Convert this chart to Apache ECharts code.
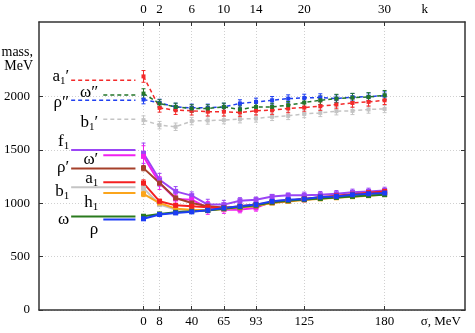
<!doctype html>
<html lang="en">
<head>
    <meta charset="UTF-8">
    <title>mass vs k</title>
    <style>
        html, body { margin: 0; padding: 0; background: #fff; }
    </style>
</head>
<body>
    <div id="main" style="width: 475px;height:333px;"></div>
    <script src="https://cdn.jsdelivr.net/npm/echarts@6/dist/echarts.min.js"></script>
    <script>
        // k values of the points (top axis); bottom axis shows sigma at the same places
        var kValues = [0, 2, 4, 6, 8, 10, 12, 14, 16, 18, 20, 22, 24, 26, 28, 30];
        var kTicks = [0, 2, 6, 10, 14, 20, 30];
        var sigmaLabels = ['0', '8', '40', '65', '93', '125', '180'];
        var yTicks = [0, 500, 1000, 1500, 2000];

        // upper states (dashed)
        var a1p    = [2190, 1895, 1873, 1868, 1859, 1859, 1852, 1868, 1873, 1889, 1898, 1911, 1926, 1941, 1951, 1966];
        var omegaPP = [2029, 1936, 1904, 1889, 1889, 1904, 1880, 1904, 1904, 1920, 1945, 1966, 1982, 1991, 1997, 2013];
        var rhoPP  = [1973, 1941, 1904, 1895, 1895, 1904, 1936, 1951, 1966, 1982, 1988, 1992, 1982, 1995, 2000, 2010];
        var b1p    = [1780, 1733, 1718, 1771, 1777, 1780, 1789, 1796, 1811, 1820, 1838, 1848, 1864, 1867, 1880, 1885];

        // lower states (solid)
        var f1     = [1470, 1221, 1112, 1072, 988, 988, 1025, 1034, 1065, 1075, 1075, 1081, 1090, 1103, 1112, 1121];
        var omegaP = [1440, 1190, 1041, 1034, 957, 941, 941, 957, 1019, 1028, 1034, 1050, 1060, 1075, 1090, 1100];
        var rhoP   = [1330, 1190, 1050, 1003, 972, 960, 960, 975, 1005, 1025, 1040, 1055, 1065, 1080, 1090, 1100];
        var a1     = [1190, 1019, 981, 972, 963, 957, 972, 988, 1009, 1025, 1041, 1058, 1070, 1085, 1100, 1112];
        var b1     = [1143, 988, 941, 932, 935, 950, 962, 980, 1005, 1020, 1035, 1045, 1055, 1065, 1075, 1085];
        var h1     = [1088, 1003, 950, 941, 935, 948, 960, 978, 1003, 1018, 1032, 1042, 1052, 1062, 1072, 1082];
        var omega  = [879, 901, 916, 925, 932, 950, 965, 982, 1010, 1025, 1035, 1045, 1055, 1065, 1073, 1081];
        var rho    = [855, 895, 910, 920, 935, 957, 972, 988, 1019, 1034, 1041, 1060, 1065, 1081, 1090, 1097];

        // error bars
        var a1pErr    = [55, 40, 40, 40, 40, 40, 40, 40, 40, 40, 40, 40, 40, 40, 40, 40];
        var omegaPPErr = [45, 35, 35, 35, 35, 35, 35, 35, 35, 35, 40, 40, 40, 40, 40, 45];
        var rhoPPErr  = [40, 35, 35, 35, 35, 35, 35, 35, 35, 35, 35, 35, 35, 35, 35, 35];
        var b1pErr    = [40, 35, 35, 35, 35, 35, 35, 35, 35, 35, 35, 35, 35, 35, 35, 35];
        var f1Err     = [95, 60, 45, 35, 50, 40, 28, 25, 18, 22, 30, 30, 30, 30, 30, 30];
        var omegaPErr = [100, 60, 40, 40, 60, 35, 30, 30, 20, 20, 20, 20, 20, 20, 20, 20];
        var rhoPErr   = [25, 20, 15, 12, 10, 10, 10, 10, 10, 10, 10, 10, 10, 10, 10, 10];
        var a1Err     = [30, 20, 15, 12, 10, 10, 10, 10, 10, 10, 10, 10, 10, 10, 10, 10];
        var b1Err     = [20, 12, 10, 10, 10, 10, 10, 10, 10, 10, 10, 10, 10, 10, 10, 10];
        var h1Err     = [25, 12, 10, 10, 10, 10, 10, 10, 10, 10, 10, 10, 10, 10, 10, 10];
        var omegaErr  = [12, 10, 8, 8, 8, 8, 8, 8, 8, 8, 8, 8, 8, 8, 8, 8];
        var rhoErr    = [12, 10, 8, 8, 8, 8, 8, 8, 8, 8, 8, 8, 8, 8, 8, 8];

        // experimental masses (horizontal reference lines on the left)
        var refNames  = ['a1p', 'omegaPP', 'rhoPP', 'b1p', 'f1', 'omegaP', 'rhoP', 'a1', 'b1', 'h1', 'omega', 'rho'];
        var refMasses = [2155, 2015, 1967, 1788, 1500, 1451, 1326, 1198, 1151, 1098, 876, 848];

        var FONT = '"Liberation Serif", "Times New Roman", serif';

        // draw order: later on top; dy = label shift in px from its line
        var states = [
            { key: 'b1p', label: 'b{s|1}′', data: b1p, err: b1pErr, color: '#c4c4c4', dashed: true, left: false, dy: 3 },
            { key: 'a1p', label: 'a{s|1}′', data: a1p, err: a1pErr, color: '#f42a2a', dashed: true, left: true, dy: -4 },
            { key: 'rhoPP', label: 'ρ″', data: rhoPP, err: rhoPPErr, color: '#2040f0', dashed: true, left: true, dy: 2 },
            { key: 'omegaPP', label: 'ω″', data: omegaPP, err: omegaPPErr, color: '#23762a', dashed: true, left: false, dy: -3 },
            { key: 'f1', label: 'f{s|1}', data: f1, err: f1Err, color: '#9b45f5', dashed: false, left: true, dy: -8 },
            { key: 'omegaP', label: 'ω′', data: omegaP, err: omegaPErr, color: '#f020f0', dashed: false, left: false, dy: 4 },
            { key: 'rhoP', label: 'ρ′', data: rhoP, err: rhoPErr, color: '#a5402a', dashed: false, left: true, dy: -1 },
            { key: 'b1', label: 'b{s|1}', data: b1, err: b1Err, color: '#c4c4c4', dashed: false, left: true, dy: 4 },
            { key: 'h1', label: 'h{s|1}', data: h1, err: h1Err, color: '#fba51c', dashed: false, left: false, dy: 10 },
            { key: 'a1', label: 'a{s|1}', data: a1, err: a1Err, color: '#f42020', dashed: false, left: false, dy: -4 },
            { key: 'omega', label: 'ω', data: omega, err: omegaErr, color: '#2a7a1e', dashed: false, left: true, dy: 3 },
            { key: 'rho', label: 'ρ', data: rho, err: rhoErr, color: '#1c3cf5', dashed: false, left: false, dy: 10 }
        ];

        var series = [];
        states.forEach(function (st) {
            var lineType = st.dashed ? [4, 3] : 'solid';
            var lw = st.dashed ? 1.5 : 2;
            var ref = refMasses[refNames.indexOf(st.key)];
            var x0 = st.left ? -9 : -5;

            // reference line
            series.push({
                type: 'line',
                xAxisIndex: 0,
                yAxisIndex: 0,
                silent: true,
                symbol: 'none',
                lineStyle: { color: st.color, width: lw, type: lineType },
                data: [[x0, ref], [-1, ref]],
                z: 3
            });

            // error bars
            series.push({
                type: 'custom',
                xAxisIndex: 0,
                yAxisIndex: 0,
                silent: true,
                data: kValues.map(function (k, i) { return [k, st.data[i], st.err[i]]; }),
                encode: { x: 0, y: 1 },
                renderItem: function (params, api) {
                    var k = api.value(0), m = api.value(1), e = api.value(2);
                    var top = api.coord([k, m + e]);
                    var bot = api.coord([k, m - e]);
                    var style = { stroke: st.color, lineWidth: 1 };
                    return {
                        type: 'group',
                        children: [
                            { type: 'line', shape: { x1: top[0], y1: top[1], x2: bot[0], y2: bot[1] }, style: style },
                            { type: 'line', shape: { x1: top[0] - 2, y1: top[1], x2: top[0] + 2, y2: top[1] }, style: style },
                            { type: 'line', shape: { x1: bot[0] - 2, y1: bot[1], x2: bot[0] + 2, y2: bot[1] }, style: style }
                        ]
                    };
                },
                z: 4
            });

            // the points
            series.push({
                type: 'line',
                xAxisIndex: 0,
                yAxisIndex: 0,
                silent: true,
                symbol: 'rect',
                symbolSize: st.dashed ? 4 : 5,
                itemStyle: { color: st.color },
                lineStyle: { color: st.color, width: lw, type: lineType },
                data: kValues.map(function (k, i) { return [k, st.data[i]]; }),
                z: 5
            });
        });

        var gridLine = { show: true, lineStyle: { color: '#d0d0d0', type: [1, 2], width: 1 } };
        var frame = { show: true, onZero: false, lineStyle: { color: '#333', width: 1.5 } };
        var tickIn = { show: true, inside: true, length: 4, lineStyle: { color: '#333', width: 1 } };
        var labelFont = { color: '#000', fontFamily: FONT, fontSize: 13 };

        var option = {
            animation: false,
            grid: { left: 39, right: 10, top: 22, bottom: 23 },
            xAxis: [
                {
                    type: 'value',
                    position: 'bottom',
                    min: -13,
                    max: 40,
                    axisLine: frame,
                    axisTick: Object.assign({ customValues: kTicks }, tickIn),
                    splitLine: gridLine,
                    axisLabel: Object.assign({
                        customValues: kTicks.concat([37]),
                        margin: 5,
                        formatter: function (v) {
                            var i = kTicks.indexOf(v);
                            return i >= 0 ? sigmaLabels[i] : 'σ, MeV';
                        }
                    }, labelFont)
                },
                {
                    type: 'value',
                    position: 'top',
                    min: -13,
                    max: 40,
                    axisLine: frame,
                    axisTick: Object.assign({ customValues: kTicks }, tickIn),
                    splitLine: { show: false },
                    axisLabel: Object.assign({
                        customValues: kTicks.concat([35]),
                        margin: 6,
                        formatter: function (v) { return v === 35 ? 'k' : String(v); }
                    }, labelFont)
                }
            ],
            yAxis: [
                {
                    type: 'value',
                    position: 'left',
                    min: 0,
                    max: 2700,
                    axisLine: frame,
                    axisTick: Object.assign({ customValues: yTicks }, tickIn),
                    splitLine: gridLine,
                    axisLabel: Object.assign({
                        customValues: yTicks,
                        margin: 9,
                        formatter: function (v) { return String(v); }
                    }, labelFont)
                },
                {
                    type: 'value',
                    position: 'right',
                    min: 0,
                    max: 2700,
                    axisLine: frame,
                    axisTick: Object.assign({ customValues: yTicks }, tickIn),
                    splitLine: { show: false },
                    axisLabel: { show: false }
                }
            ],
            series: series
        };

        var myChart = echarts.init(document.getElementById('main'));
        myChart.setOption(option);

        // names of the reference lines, placed at the left end of each line
        var texts = [{
            type: 'text',
            x: 33,
            y: 45,
            style: {
                text: 'mass,\nMeV',
                align: 'right',
                fill: '#000',
                fontFamily: FONT,
                fontSize: 14,
                lineHeight: 14
            }
        }];
        states.forEach(function (st) {
            var ref = refMasses[refNames.indexOf(st.key)];
            var p = myChart.convertToPixel({ xAxisIndex: 0, yAxisIndex: 0 }, [st.left ? -9 : -5, ref]);
            texts.push({
                type: 'text',
                x: p[0] - (st.left ? 2 : 5),
                y: p[1] + st.dy,
                z: 10,
                style: {
                    text: st.label,
                    align: 'right',
                    verticalAlign: 'middle',
                    fill: '#000',
                    fontFamily: FONT,
                    fontSize: 17,
                    rich: {
                        s: { fontFamily: FONT, fontSize: 11, padding: [9, 0, 0, 0], fill: '#000' }
                    }
                }
            });
        });
        myChart.setOption({ graphic: texts });
    </script>
</body>
</html>
